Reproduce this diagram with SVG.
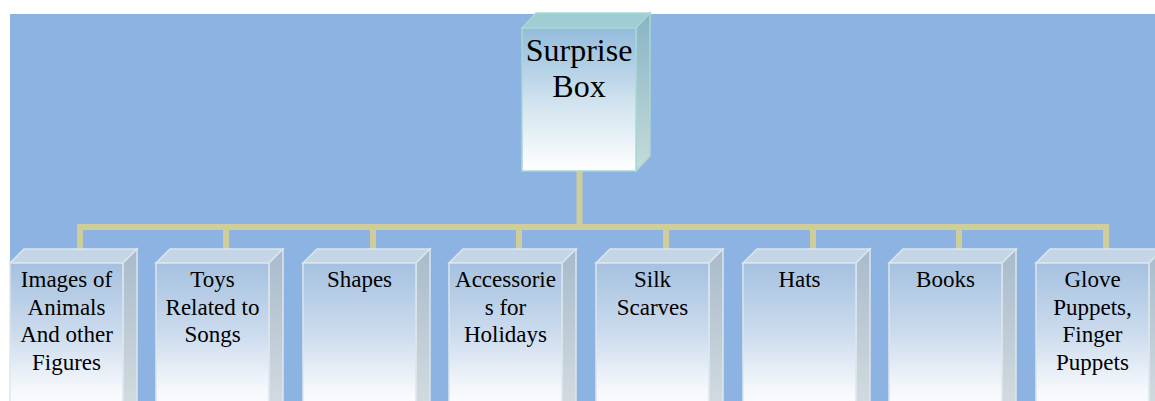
<svg xmlns="http://www.w3.org/2000/svg" width="1155" height="401" viewBox="0 0 1155 401">
  <defs>
    <linearGradient id="frontTop" x1="0" y1="0" x2="0" y2="1">
      <stop offset="0" stop-color="#93bcdb"/>
      <stop offset="0.55" stop-color="#d4e5f0"/>
      <stop offset="1" stop-color="#ffffff"/>
    </linearGradient>
    <linearGradient id="sideTop" x1="0" y1="0" x2="0" y2="1">
      <stop offset="0" stop-color="#88b4c4"/>
      <stop offset="1" stop-color="#c6dbdb"/>
    </linearGradient>
    <linearGradient id="front" x1="0" y1="0" x2="0" y2="1">
      <stop offset="0" stop-color="#a5c1e0"/>
      <stop offset="0.45" stop-color="#cddcee"/>
      <stop offset="0.8" stop-color="#f6f9fc"/>
      <stop offset="1" stop-color="#ffffff"/>
    </linearGradient>
    <linearGradient id="side" x1="0" y1="0" x2="0" y2="1">
      <stop offset="0" stop-color="#a8bacb"/>
      <stop offset="1" stop-color="#d6dee1"/>
    </linearGradient>
    <style>
      .bg { fill: #8db3e2; }
      .conn { fill: none; stroke: #cfcd9a; stroke-width: 6; }
      .top-face { fill: #9fcdd3; stroke: #a6d8d3; stroke-width: 1.5; }
      .top-side { fill: url(#sideTop); stroke: #a6d8d3; stroke-width: 1.5; }
      .top-front { fill: url(#frontTop); stroke: #a6d8d3; stroke-width: 1.5; }
      .lid { fill: #c4d6e6; stroke: #dbe6ec; stroke-width: 1.5; }
      .side { fill: url(#side); stroke: #dbe6ec; stroke-width: 1.5; }
      .face { fill: url(#front); stroke: #dbe6ec; stroke-width: 1.5; }
      .big { font-size: 32px; }
      .lbl { font-size: 23px; }
    </style>
  </defs>

  <rect class="bg" x="10" y="14" width="1145" height="387"/>

  <g id="connectors">
    <line class="conn" x1="579.5" y1="171" x2="579.5" y2="227"/>
    <polyline class="conn" points="80,249 80,227 1106,227 1106,249"/>
    <line class="conn" x1="226" y1="227" x2="226" y2="249"/>
    <line class="conn" x1="373" y1="227" x2="373" y2="249"/>
    <line class="conn" x1="519" y1="227" x2="519" y2="249"/>
    <line class="conn" x1="666" y1="227" x2="666" y2="249"/>
    <line class="conn" x1="813" y1="227" x2="813" y2="249"/>
    <line class="conn" x1="959" y1="227" x2="959" y2="249"/>
  </g>

  <g font-family="Liberation Serif, Times New Roman, DejaVu Serif, serif" text-anchor="middle" fill="#000000">
  <g id="surprise-box">
    <polygon class="top-face" points="522,28 536,13 650,13 636,28"/>
    <polygon class="top-side" points="636,28 650,13 650,156 636,171"/>
    <rect class="top-front" x="522" y="28" width="114" height="143"/>
    <text class="big" x="579" y="61">Surprise</text>
    <text class="big" x="579" y="97">Box</text>
  </g>

  <g id="images-of-animals">
    <polygon class="lid" points="10,263 24,249 137,249 123,263"/>
    <polygon class="side" points="123,263 137,249 137,420 123,420"/>
    <rect class="face" x="10" y="263" width="113" height="160"/>
    <text class="lbl" x="66.5" y="287">Images of</text>
    <text class="lbl" x="66.5" y="314.5">Animals</text>
    <text class="lbl" x="66.5" y="342">And other</text>
    <text class="lbl" x="66.5" y="369.5">Figures</text>
  </g>

  <g id="toys-related-to-songs">
    <polygon class="lid" points="156,263 170,249 283,249 269,263"/>
    <polygon class="side" points="269,263 283,249 283,420 269,420"/>
    <rect class="face" x="156" y="263" width="113" height="160"/>
    <text class="lbl" x="212.5" y="287">Toys</text>
    <text class="lbl" x="212.5" y="314.5">Related to</text>
    <text class="lbl" x="212.5" y="342">Songs</text>
  </g>

  <g id="shapes">
    <polygon class="lid" points="303,263 317,249 430,249 416,263"/>
    <polygon class="side" points="416,263 430,249 430,420 416,420"/>
    <rect class="face" x="303" y="263" width="113" height="160"/>
    <text class="lbl" x="359.5" y="287">Shapes</text>
  </g>

  <g id="accessories-for-holidays">
    <polygon class="lid" points="449,263 463,249 576,249 562,263"/>
    <polygon class="side" points="562,263 576,249 576,420 562,420"/>
    <rect class="face" x="449" y="263" width="113" height="160"/>
    <text class="lbl" x="505.5" y="287">Accessorie</text>
    <text class="lbl" x="505.5" y="314.5">s for</text>
    <text class="lbl" x="505.5" y="342">Holidays</text>
  </g>

  <g id="silk-scarves">
    <polygon class="lid" points="596,263 610,249 723,249 709,263"/>
    <polygon class="side" points="709,263 723,249 723,420 709,420"/>
    <rect class="face" x="596" y="263" width="113" height="160"/>
    <text class="lbl" x="652.5" y="287">Silk</text>
    <text class="lbl" x="652.5" y="314.5">Scarves</text>
  </g>

  <g id="hats">
    <polygon class="lid" points="743,263 757,249 870,249 856,263"/>
    <polygon class="side" points="856,263 870,249 870,420 856,420"/>
    <rect class="face" x="743" y="263" width="113" height="160"/>
    <text class="lbl" x="799.5" y="287">Hats</text>
  </g>

  <g id="books">
    <polygon class="lid" points="889,263 903,249 1016,249 1002,263"/>
    <polygon class="side" points="1002,263 1016,249 1016,420 1002,420"/>
    <rect class="face" x="889" y="263" width="113" height="160"/>
    <text class="lbl" x="945.5" y="287">Books</text>
  </g>

  <g id="glove-puppets">
    <polygon class="lid" points="1036,263 1050,249 1163,249 1149,263"/>
    <polygon class="side" points="1149,263 1163,249 1163,420 1149,420"/>
    <rect class="face" x="1036" y="263" width="113" height="160"/>
    <text class="lbl" x="1092.5" y="287">Glove</text>
    <text class="lbl" x="1092.5" y="314.5">Puppets,</text>
    <text class="lbl" x="1092.5" y="342">Finger</text>
    <text class="lbl" x="1092.5" y="369.5">Puppets</text>
  </g>
  </g>
</svg>
